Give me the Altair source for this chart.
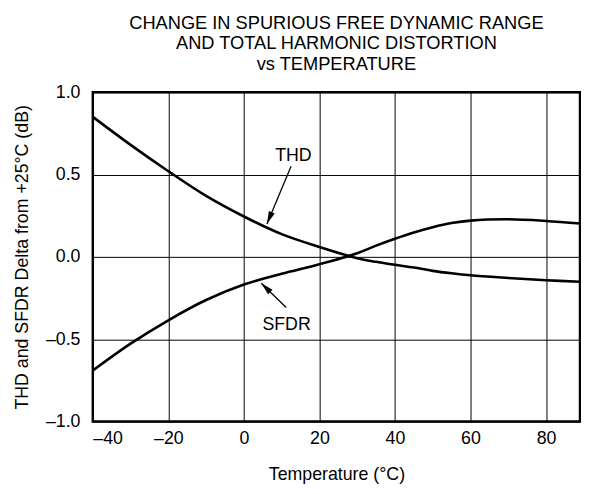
import math
import altair as alt
import pandas as pd

# ---- data ----
temps = [-40, -30, -20, -10, 0, 10, 20, 30, 35, 40, 45, 50, 55, 60, 70, 80, 89]
thd = [0.85, 0.68, 0.52, 0.37, 0.245, 0.138, 0.06, -0.008, -0.03, -0.048, -0.065, -0.085, -0.1, -0.112, -0.128, -0.142, -0.151]
sfdr = [-0.69, -0.527, -0.385, -0.262, -0.168, -0.103, -0.045, 0.022, 0.068, 0.11, 0.148, 0.18, 0.205, 0.22, 0.228, 0.218, 0.202]

x_ticks = [-40, -20, 0, 20, 40, 60, 80]
y_ticks = [-1.0, -0.5, 0.0, 0.5, 1.0]
x_domain = [-40, 89]
y_domain = [-1.0, 1.0]

ann_text = ["THD", "SFDR"]
ann_x = [13.1, 11.3]
ann_y = [0.61, -0.413]
arrow_tail_x = [12.5, 11.2]
arrow_tail_y = [0.55, -0.307]
arrow_tip_x = [6.1, 4.6]
arrow_tip_y = [0.20, -0.16]

title_lines = ["CHANGE IN SPURIOUS FREE DYNAMIC RANGE",
               "AND TOTAL HARMONIC DISTORTION",
               "vs TEMPERATURE"]

W, H = 494, 334
FONT = "Liberation Sans"
FS = 18

curves = pd.DataFrame({
    "T": temps * 2,
    "v": thd + sfdr,
    "s": ["THD"] * len(temps) + ["SFDR"] * len(temps),
})

# arrow angles in pixel space
kx = W / (x_domain[1] - x_domain[0])
ky = H / (y_domain[1] - y_domain[0])
angles = []
for xt, yt, xp, yp in zip(arrow_tail_x, arrow_tail_y, arrow_tip_x, arrow_tip_y):
    dx = (xp - xt) * kx
    dy = -(yp - yt) * ky
    angles.append(math.degrees(math.atan2(dx, -dy)) % 360)

arrows = pd.DataFrame({
    "x": arrow_tail_x, "y": arrow_tail_y,
    "x2": arrow_tip_x, "y2": arrow_tip_y, "ang": angles,
})
labels = pd.DataFrame({"x": ann_x, "y": ann_y, "t": ann_text})

xneg = "datum.value < 0 ? '\u2013' + format(-datum.value, 'd') : format(datum.value, 'd')"
yneg = "datum.value < 0 ? '\u2013' + format(-datum.value, '.1f') : format(datum.value, '.1f')"

xs = alt.Scale(domain=x_domain, nice=False, zero=False)
ys = alt.Scale(domain=y_domain, nice=False, zero=False)

x_axis = alt.Axis(values=x_ticks, grid=True, gridColor="black", gridWidth=1, gridOpacity=1,
                  domain=False, ticks=False, labelFontSize=FS, labelFont=FONT, labelColor="black",
                  labelPadding=8, labelExpr=xneg, title="Temperature (\u00b0C)",
                  titleFontSize=FS, titleFont=FONT, titleFontWeight="normal", titleColor="black",
                  titlePadding=19)
y_axis = alt.Axis(values=y_ticks, grid=True, gridColor="black", gridWidth=1, gridOpacity=1,
                  domain=False, ticks=False, labelFontSize=FS, labelFont=FONT, labelColor="black",
                  labelPadding=13, labelExpr=yneg, title="THD and SFDR Delta from +25\u00b0C (dB)",
                  titleFontSize=FS, titleFont=FONT, titleFontWeight="normal", titleColor="black",
                  titlePadding=14)

lines = alt.Chart(curves).mark_line(color="black", strokeWidth=2.6, interpolate="catmull-rom").encode(
    x=alt.X("T:Q", scale=xs, axis=x_axis),
    y=alt.Y("v:Q", scale=ys, axis=y_axis),
    detail="s:N",
)

rules = alt.Chart(arrows).mark_rule(color="black", strokeWidth=1.3).encode(
    x="x:Q", y="y:Q", x2="x2:Q", y2="y2:Q")

heads = alt.Chart(arrows).mark_point(
    shape="M0,0L-0.8,3.2L0.8,3.2Z", filled=True, color="black", size=64, opacity=1
).encode(x="x2:Q", y="y2:Q", angle=alt.Angle("ang:Q", scale=None))

texts = alt.Chart(labels).mark_text(font=FONT, fontSize=FS, color="black").encode(
    x="x:Q", y="y:Q", text="t:N")

chart = alt.layer(lines, rules, heads, texts).properties(
    width=W, height=H,
    title=alt.TitleParams(title_lines, font=FONT, fontSize=18.5, fontWeight="normal",
                          color="black", anchor="middle", lineHeight=21, offset=10),
    autosize=alt.AutoSizeParams(type="none"),
    padding={"left": 86, "top": 82, "right": 1, "bottom": 62},
).configure_view(stroke="black", strokeWidth=2.5)

chart.save("out.html", embed_options={"renderer": "svg", "actions": False})
